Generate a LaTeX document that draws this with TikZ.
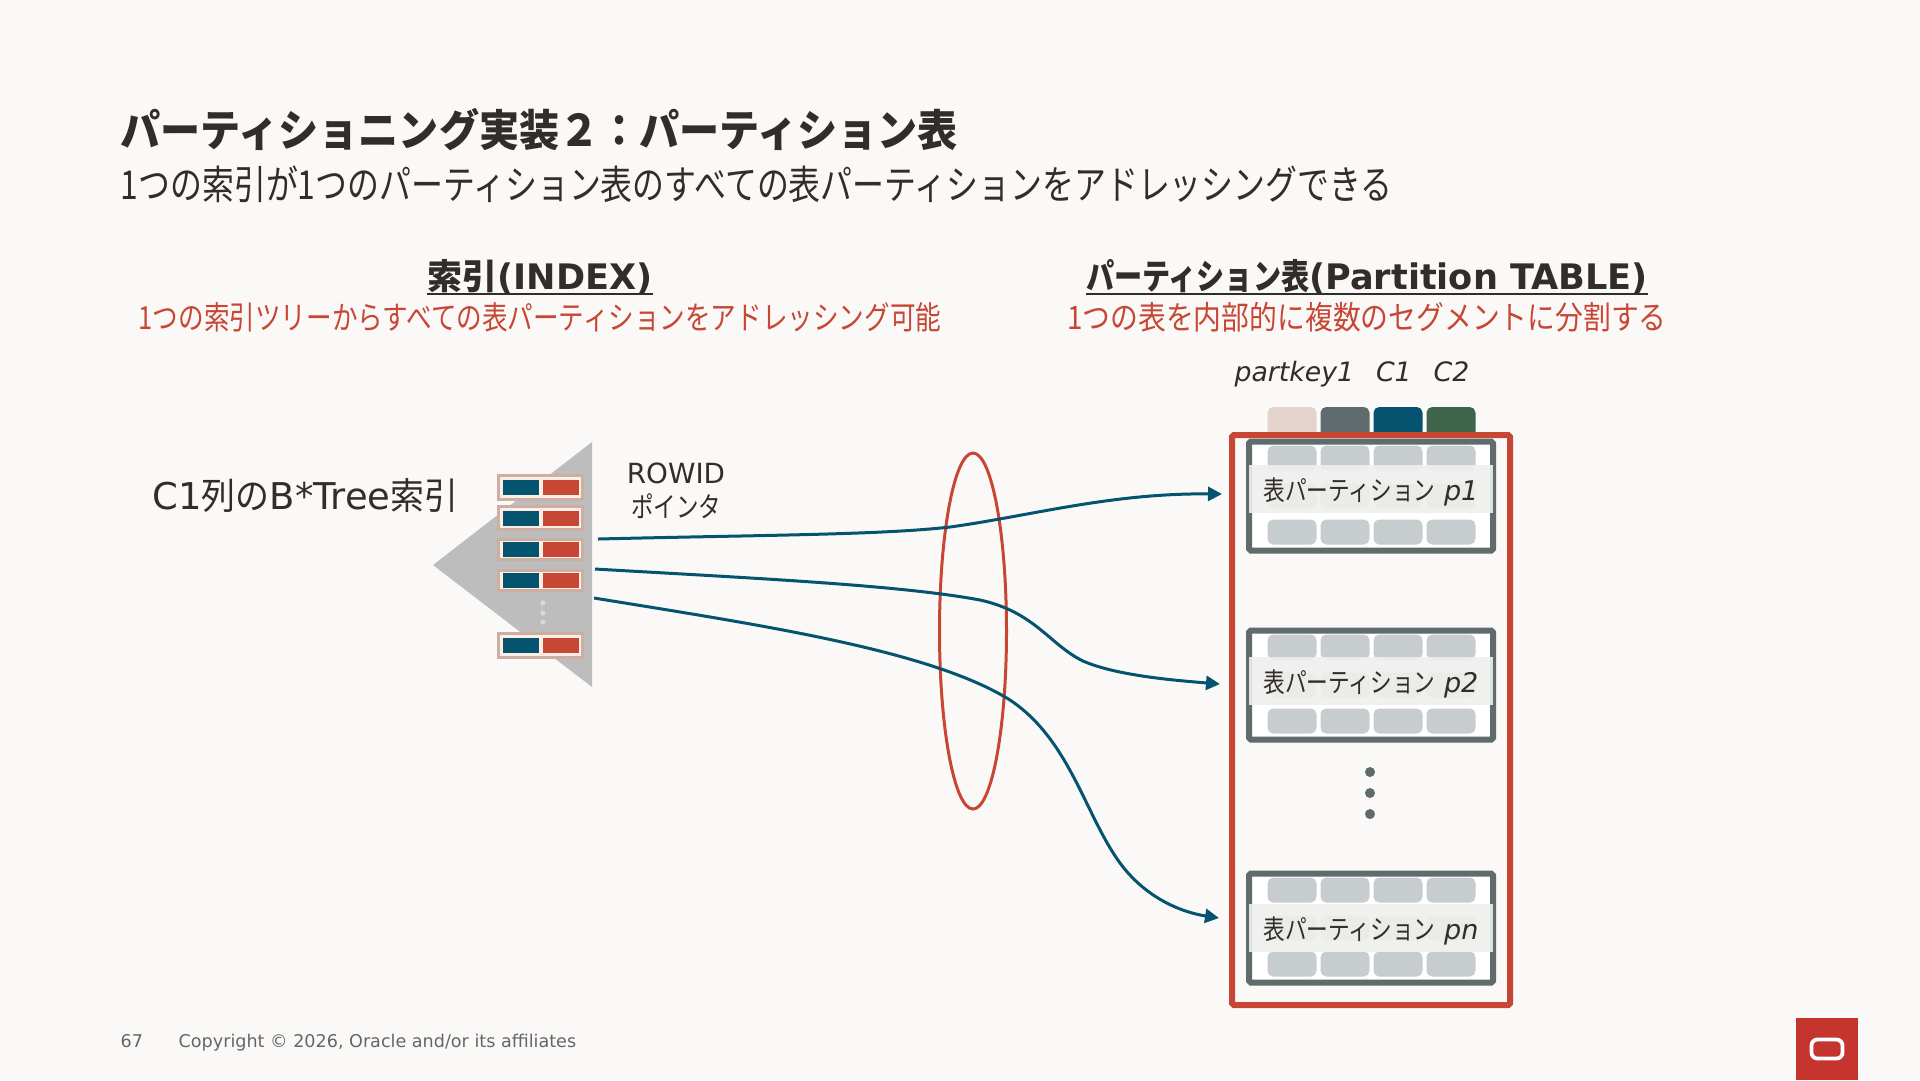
\documentclass[tikz,border=0pt]{standalone}
\usepackage{fontspec}
\usepackage{xcolor}
\usetikzlibrary{arrows.meta,positioning,shapes.geometric}
\setmainfont{DejaVu Sans}
\newfontfamily\jpfont[FakeStretch=0.8]{Noto Sans CJK JP}
\newfontfamily\jpmid[FakeStretch=0.86]{Noto Sans CJK JP}
\newfontfamily\jpwide[FakeStretch=0.92]{Noto Sans CJK JP}
\newfontfamily\jpfull{Noto Sans CJK JP}
\newcommand{\jp}[1]{{\jpfont #1}}
\newcommand{\fsz}[1]{\fontsize{#1}{#1}\selectfont}
\definecolor{slidebg}{HTML}{FBF9F8}
\definecolor{inktext}{HTML}{312D2A}
\definecolor{oraclered}{HTML}{C74634}
\definecolor{logored}{HTML}{C5352D}
\definecolor{rowblue}{HTML}{04536F}
\definecolor{slategrey}{HTML}{5F6B6D}
\definecolor{rowgreen}{HTML}{3E6549}
\definecolor{paletan}{HTML}{E3D3CC}
\definecolor{cellgrey}{HTML}{C7CDCE}
\definecolor{wedgegrey}{HTML}{BDBDBD}
\definecolor{rowtan}{HTML}{CCAFA2}
\definecolor{rowcream}{HTML}{FCEDE5}
\definecolor{stripgrey}{HTML}{EFEFED}

\begin{document}
\begin{tikzpicture}[
  x=0.1mm, y=-0.1mm,
  txt/.style={inner sep=0pt, text=inktext, align=center},
  cell/.style={inner sep=0pt, rounded corners=1.6pt, minimum width=4.9mm, minimum height=2.5mm, fill=cellgrey},
  framebox/.style={inner sep=0pt, draw=slategrey, fill=white, line width=0.6mm, rounded corners=0.5pt, minimum width=24.4mm, minimum height=10.9mm},
  strip/.style={txt, fill=stripgrey, fill opacity=0.9, text opacity=1, minimum width=24.4mm, minimum height=4.8mm, text height=2.5mm, text depth=0.3mm, font=\fsz{7.7pt}},
  idxrow/.style={inner sep=0pt, draw=rowtan, line width=0.3mm, fill=rowcream, minimum width=8.4mm},
  key/.style={inner sep=0pt, minimum width=3.6mm, minimum height=1.5mm},
  arr/.style={-{Stealth[length=1.4mm, width=1.4mm, inset=0pt]}, draw=rowblue, line width=0.3mm},
]
  \fill[slidebg] (0,0) rectangle (1920,1080);
  \useasboundingbox (0,0) rectangle (1920,1080);

  % heading
  \node[txt, anchor=west, font=\fsz{12.4pt}\bfseries] (title) at (120,130) {\jpwide パーティショニング実装\char"FF12\char"FF1Aパーティション表};
  \node[txt, anchor=west, font=\fsz{11.35pt}] (subtitle) at (120,184) {\jp{1つの索引が1つのパーティション表のすべての表パーティションをアドレッシングできる}};
  \node[txt, anchor=base, font=\fsz{10pt}\bfseries] (idxhead) at (540,289) {\underline{\smash{{\jpfull 索引}(INDEX)}}};
  \node[txt, anchor=base, font=\fsz{10pt}\bfseries] (tblhead) at (1367,289) {\underline{\smash{\jp{パーティション表}(Partition TABLE)}}};
  \node[txt, text=oraclered, font=\fsz{9.1pt}] (idxnote) at (540,317) {\jp{1つの索引ツリーからすべての表パーティションをアドレッシング可能}};
  \node[txt, text=oraclered, font=\fsz{9.2pt}\jpmid] (tblnote) at (1367,317) {1つの表を内部的に複数のセグメントに分割する};
  \node[txt, font=\fsz{7.6pt}\itshape] (colnames) at (1352,374) {partkey1\hspace{2.2mm}C1\hspace{2.2mm}C2};

  % index tree
  \node[txt, anchor=west, font=\fsz{10.5pt}] (idxname) at (152,495) {C1{\jpwide 列の}B*Tree{\jpwide 索引}};
  \fill[wedgegrey] (433,565) -- (592,442) -- (592,687) -- cycle;
  \foreach \r/\y/\h in {1/487/2.4mm, 2/518/2.3mm, 3/549/2mm, 4/580/2mm, 5/645/2.4mm} {
    \node[idxrow, minimum height=\h] (row\r) at (540,\y) {};
    \node[key, fill=rowblue] (rowb\r) at (521,\y) {};
    \node[key, fill=oraclered] (rowr\r) at (561,\y) {};
  }
  \foreach \d/\y in {1/603, 2/613, 3/622} {
    \fill[black!15] (543,\y) circle (2.6);
  }
  \node[txt, font=\fsz{7.9pt}] (rowid) at (676,473) {ROWID};
  \node[txt, font=\fsz{8pt}\jpfont] (pointer) at (676,506) {ポインタ};

  % table
  \foreach \c/\x/\col in {1/1292/paletan, 2/1345/slategrey, 3/1398/rowblue, 4/1451/rowgreen} {
    \node[cell, fill=\col, minimum height=3mm] (head\c) at (\x,422) {};
  }
  \foreach \p/\y/\s/\lab in {1/496/489/p1, 2/685/681/p2, n/928/928/pn} {
    \node[framebox] (part\p) at (1371,\y) {};
    \foreach \c/\x in {1/1292, 2/1345, 3/1398, 4/1451} {
      \node[cell] (ct\p\c) at (\x,\y-38) {};
      \node[cell] (cm\p\c) at (\x,\y) {};
      \node[cell] (cb\p\c) at (\x,\y+36) {};
    }
    \node[strip] (lab\p) at (1371,\s) {\jp{表パーティション} \textit{\lab}};
  }
  \node[inner sep=0pt, draw=oraclered, line width=0.6mm, rounded corners=0.5pt, minimum width=27.8mm, minimum height=57mm] (tbl) at (1371,720) {};
  \foreach \d/\y in {1/772, 2/793, 3/814} {
    \fill[slategrey] (1370,\y) circle (5);
  }

  % pointers
  \node[draw=oraclered, line width=0.3mm, ellipse, inner sep=0pt, minimum width=6.7mm, minimum height=35.6mm] (ring) at (973,631) {};
  \coordinate (s1) at (598,539);
  \coordinate (s2) at (595,569);
  \coordinate (s3) at (594,598);
  \coordinate (e1) at (1222,494);
  \coordinate (e2) at (1220,684);
  \coordinate (e3) at (1219,918);
  \draw[arr] (s1) .. controls (760,535) and (880,535) .. (950,527) .. controls (1030,516) and (1110,493) .. (e1);
  \draw[arr] (s2) .. controls (750,578) and (900,585) .. (980,600) .. controls (1035,612) and (1050,645) .. (1083,661) .. controls (1115,675) and (1170,680) .. (e2);
  \draw[arr] (s3) .. controls (760,625) and (930,650) .. (1010,700) .. controls (1070,740) and (1085,815) .. (1120,863) .. controls (1145,897) and (1180,912) .. (e3);

  % footer
  \node[txt, anchor=base west, text=black!60, font=\fsz{5pt}] (pageno) at (120,1047) {67};
  \node[txt, anchor=base west, text=black!60, font=\fsz{5pt}] (copyright) at (178,1047) {Copyright © 2026, Oracle and/or its affiliates};
  \node[inner sep=0pt, fill=logored, minimum width=6.2mm, minimum height=6.2mm] (logo) at (1827,1049) {};
  \node[inner sep=0pt, draw=white, line width=0.38mm, rounded corners=1.7pt, minimum width=3.1mm, minimum height=1.9mm] (logoring) at (logo) {};
\end{tikzpicture}
\end{document}
